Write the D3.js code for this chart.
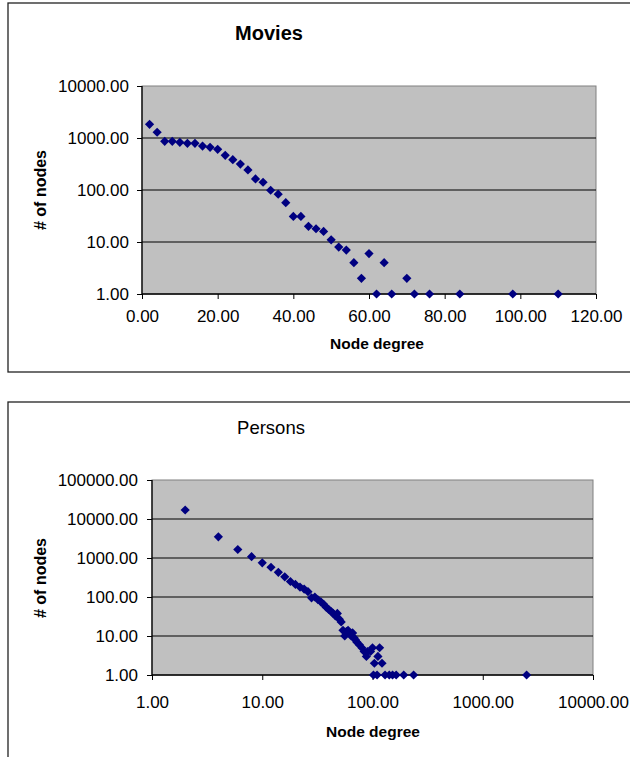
<!DOCTYPE html>
<html><head><meta charset="utf-8">
<script src="https://cdn.jsdelivr.net/npm/d3@7"></script>
<style>
html,body{margin:0;padding:0;background:#fff;}
svg{display:block;font-family:"Liberation Sans",Arial,sans-serif;}
</style></head>
<body>
<svg id="c" width="630" height="757"></svg>
<script>
// ---- Data ----
const moviesDegree = [2,4,6,8,10,12,14,16,18,20,22,24,26,28,30,32,34,36,38,40,42,44,46,48,50,52,54,56,58,60,62,64,66,70,72,76,84,98,110];
const moviesCount  = [1830,1290,865,865,827,790,790,700,662,605,464,383,315,243,163,141,99,83,57,31,31,20,18,16,11,8,7,4,2,6,1,4,1,2,1,1,1,1,1];
const moviesXTicks = [0,20,40,60,80,100,120];
const moviesYTicks = [1,10,100,1000,10000];

const personsDegree = [2,4,6,8,10,12,14,16,18,20,22,24,26,28,30,32,34,36,38,40,42,44,46,48,50,52,54,56,58,60,62,64,66,68,70,72,76,80,84,88,90,96,100,104,112,116,122,102,110,130,142,152,164,192,236,2500];
const personsCount  = [17000,3500,1650,1080,750,580,430,330,250,210,180,160,137,95,100,85,75,65,55,48,43,38,33,38,27,23,14,10,13,14,12,10,12,9,8,7,6,5,4,3,4,4,5,2,3,5,2,1,1,1,1,1,1,1,1,1];
const personsXTicks = [1,10,100,1000,10000];
const personsYTicks = [1,10,100,1000,10000,100000];

const fmt = d3.format(".2f");
const svg = d3.select("#c");
const diamond = "M0,-4.6L4.6,0L0,4.6L-4.6,0Z";

function panel(o){
  svg.append("rect").attr("x",o.box[0]).attr("y",o.box[1]).attr("width",o.box[2]).attr("height",o.box[3])
    .attr("fill","#fff").attr("stroke","#222").attr("stroke-width",1.3);
  svg.append("text").attr("x",o.titleX).attr("y",o.titleY).attr("text-anchor","middle")
    .attr("font-size",o.titleSize).attr("font-weight",o.titleWeight).attr("fill","#000").text(o.title);
  const x = o.x, y = o.y;
  const [x0,x1] = x.range(), [y0,y1] = y.range();
  svg.append("rect").attr("x",x0).attr("y",y1).attr("width",x1-x0).attr("height",y0-y1)
    .attr("fill","#c0c0c0").attr("stroke","#808080").attr("stroke-width",1);
  svg.append("g").selectAll("line").data(o.yTicks.filter(t=>t!==o.yTicks[0] && t!==o.yTicks[o.yTicks.length-1])).join("line")
    .attr("x1",x0).attr("x2",x1).attr("y1",d=>y(d)).attr("y2",d=>y(d)).attr("stroke","#000").attr("stroke-width",1);
  const gx = svg.append("g").attr("transform",`translate(0,${y0})`)
    .call(d3.axisBottom(x).tickValues(o.xTicks).tickFormat(fmt).tickSize(5).tickPadding(o.xPad));
  const gy = svg.append("g").attr("transform",`translate(${x0},0)`)
    .call(d3.axisLeft(y).tickValues(o.yTicks).tickFormat(fmt).tickSize(5).tickPadding(o.yPad));
  [gx,gy].forEach(g=>{
    g.select(".domain").attr("stroke","#000").attr("stroke-width",1.3);
    g.selectAll(".tick line").attr("stroke","#000");
    g.selectAll("text").attr("font-size",17).attr("fill","#000").attr("font-family","\"Liberation Sans\",Arial,sans-serif");
  });
  gy.select(".domain").attr("d",`M0,${y0}V${y1}`);
  gx.select(".domain").attr("d",`M${x0},0H${x1}`);
  svg.append("text").attr("x",o.xLabelX).attr("y",o.xLabelY).attr("text-anchor","middle")
    .attr("font-size",15.5).attr("font-weight","bold").attr("fill","#000").text("Node degree");
  svg.append("text").attr("transform",`translate(${o.yLabelX},${o.yLabelY}) rotate(-90)`).attr("text-anchor","middle")
    .attr("font-size",16).attr("font-weight","bold").attr("fill","#000").text("# of nodes");
  svg.append("g").selectAll("path").data(o.xs.map((d,i)=>[d,o.ys[i]])).join("path")
    .attr("d",diamond).attr("transform",d=>`translate(${x(d[0])},${y(d[1])})`).attr("fill","#000080");
}

panel({
  box:[8,3,640,369], title:"Movies", titleX:269, titleY:40, titleSize:20, titleWeight:"bold",
  x:d3.scaleLinear().domain([0,120]).range([142,596]),
  y:d3.scaleLog().domain([1,10000]).range([294,86]),
  xTicks:moviesXTicks, yTicks:moviesYTicks, xs:moviesDegree, ys:moviesCount,
  xPad:11, yPad:8,
  xLabelX:377, xLabelY:349, yLabelX:46, yLabelY:190
});
panel({
  box:[8,402,640,400], title:"Persons", titleX:271, titleY:434, titleSize:18.5, titleWeight:"normal",
  x:d3.scaleLog().domain([1,10000]).range([152,593]),
  y:d3.scaleLog().domain([1,100000]).range([675,480]),
  xTicks:personsXTicks, yTicks:personsYTicks, xs:personsDegree, ys:personsCount,
  xPad:16, yPad:9,
  xLabelX:373, xLabelY:737, yLabelX:46, yLabelY:578
});
</script>
</body></html>
